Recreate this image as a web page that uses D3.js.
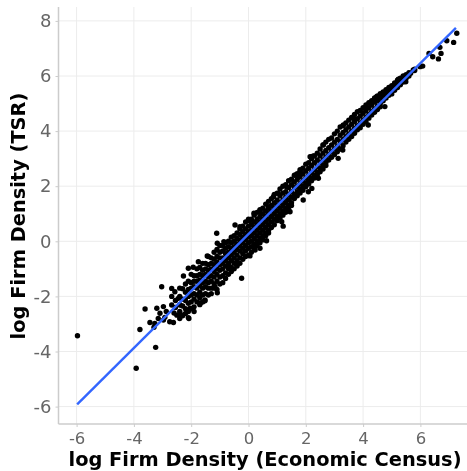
<!DOCTYPE html>
<html><head><meta charset="utf-8">
<script src="https://cdn.jsdelivr.net/npm/d3@7/dist/d3.min.js"></script>
<style>html,body{margin:0;padding:0;background:#fff}svg{display:block;filter:blur(0.5px)}</style>
</head><body><svg id="c" width="467" height="471"></svg>
<script>
const xTicks=[-6,-4,-2,0,2,4,6];
const yTicks=[-6,-4,-2,0,2,4,6,8];
const xLabel="log Firm Density (Economic Census)";
const yLabel="log Firm Density (TSR)";
const trendX=[-5.98,7.24];
const trendY=[-5.92,7.75];
const outlierPoints=[[-5.97,-3.43],[-3.92,-4.61],[-3.24,-3.85],[-3.79,-3.2],[-3.61,-2.46],[-3.03,-1.65],[-2.08,-2.8],[-3.44,-2.95],[-3.3,-3.12],[-1.11,0.29],[-0.24,-1.34],[0.63,0.02],[0.4,-0.25],[1.91,1.5],[1.21,0.55],[7.27,7.55],[7.16,7.22],[6.92,7.28],[6.72,6.82],[6.68,7.04],[6.63,6.62],[6.43,6.7],[6.3,6.82],[6.08,6.36],[5.99,6.34],[5.75,6.22],[5.66,6.1],[5.49,5.79],[5.29,5.88],[4.76,4.89],[4.18,4.22],[3.29,3.31],[3.13,3.01]];
const lowCluster=[[-3.2,-2.43],[-2.97,-2.37],[-3.09,-2.61],[-2.87,-2.55],[-2.75,-2.92],[-2.62,-2.95],[-3.15,-2.8],[-2.92,-2.76],[-3.27,-2.98],[-2.97,-2.86],[-2.68,-2.31],[-2.5,-2.68],[-2.39,-2.62],[-2.39,-2.31],[-2.68,-2.0],[-2.68,-1.71],[-2.57,-1.83],[-2.45,-2.07],[-1.69,-2.25],[-1.52,-2.13],[-2.04,-2.43],[-2.55,-2.4],[-2.55,-2.15],[-2.6,-2.6]];
const edgePoints=[[-2.27,-1.26],[-2.1,-0.98],[-1.93,-0.94],[-1.75,-0.74],[-1.44,-0.53],[-1.09,-0.07],[-0.86,-0.01],[-0.47,0.59],[-0.3,0.53],[0.03,0.75],[0.19,1.02],[0.38,1.07],[0.69,1.26],[0.87,1.62],[1.04,1.74],[1.33,1.98],[1.65,2.41],[1.8,2.53],[2.15,3.07],[2.26,3.1],[-2.1,-2.77],[-1.69,-2.25],[-1.52,-2.16],[-1.09,-1.87],[-1.17,-1.65],[-0.65,-0.92],[-0.41,-0.86],[0.05,-0.53],[0.23,-0.32],[1.16,0.71],[1.45,1.07],[2.09,1.8],[2.21,1.92],[2.44,2.29],[3.31,4.22],[3.66,4.46],[4.07,4.83],[4.47,5.25],[4.82,5.47],[5.23,5.88],[2.61,3.5],[2.2,3.07]];
// each row: census value, then the TSR values read at that census value
const columnRows=[
[-2.4,-1.7,-2.0,-2.3,-2.55,-2.8],[-2.3,-1.72,-2.1,-2.35,-2.7],[-2.2,-1.55,-1.85,-2.15,-2.45,-2.62],[-2.1,-1.45,-1.75,-2.0,-2.25,-2.55],
[-2,-1.2,-1.5,-1.7,-1.95,-2.2,-2.45],[-1.9,-1.25,-1.45,-1.65,-1.9,-2.1,-2.38,-2.55],[-1.8,-1.0,-1.25,-1.45,-1.7,-1.95,-2.2],[-1.7,-0.95,-1.2,-1.4,-1.6,-1.85,-2.05,-2.3],
[-1.6,-0.8,-1.05,-1.25,-1.5,-1.7,-1.95,-2.2],[-1.5,-0.8,-1.0,-1.2,-1.45,-1.65,-1.9],[-1.4,-0.55,-0.85,-1.05,-1.3,-1.5,-1.7,-1.95],[-1.3,-0.6,-0.8,-1.0,-1.25,-1.45,-1.7,-1.9],
[-1.2,-0.4,-0.65,-0.85,-1.1,-1.3,-1.55,-1.7],[-1.1,-0.3,-0.55,-0.75,-1.0,-1.2,-1.45,-1.75],[-1,-0.15,-0.4,-0.6,-0.85,-1.05,-1.3,-1.55],[-0.9,-0.15,-0.35,-0.6,-0.8,-1.0,-1.25,-1.5],
[-0.8,-0.05,-0.25,-0.45,-0.7,-0.9,-1.15,-1.35],[-0.7,0,-0.2,-0.4,-0.6,-0.8,-1.0,-1.2],[-0.6,0.15,-0.05,-0.25,-0.5,-0.7,-0.95,-1.1],[-0.5,0.2,0,-0.2,-0.4,-0.6,-0.8,-1.0],
[-0.4,0.3,0.1,-0.1,-0.3,-0.5,-0.7,-0.9],[-0.3,0.45,0.25,0.05,-0.15,-0.35,-0.6,-0.8],[-0.2,0.55,0.35,0.15,-0.05,-0.25,-0.45,-0.65],[-0.1,0.7,0.45,0.25,0.05,-0.15,-0.35,-0.55],
[0,0.8,0.55,0.35,0.15,-0.05,-0.25,-0.5],[0.1,0.8,0.6,0.4,0.2,0,-0.2,-0.4],[0.2,0.95,0.7,0.5,0.3,0.1,-0.1,-0.25],[0.3,1.05,0.8,0.6,0.4,0.2,0,-0.15],
[0.4,1.15,0.9,0.7,0.5,0.3,0.1,-0.05],[0.5,1.2,1.0,0.8,0.6,0.4,0.2,0.05],[0.6,1.35,1.1,0.9,0.7,0.5,0.3,0.2],[0.7,1.45,1.2,1.0,0.8,0.6,0.4,0.3],
[0.8,1.55,1.3,1.1,0.9,0.7,0.5],[0.9,1.7,1.4,1.2,1.0,0.8,0.6],[1,1.75,1.5,1.3,1.1,0.9,0.75],[1.1,1.9,1.65,1.4,1.2,1.0,0.85],
[1.2,2.0,1.75,1.5,1.3,1.1,0.95],[1.3,2.05,1.8,1.6,1.4,1.2,1.05],[1.4,2.2,1.95,1.7,1.5,1.3,1.15],[1.5,2.25,2.05,1.8,1.6,1.4,1.3],
[1.6,2.4,2.15,1.95,1.7,1.55],[1.7,2.45,2.25,2.0,1.8,1.65],[1.8,2.6,2.35,2.1,1.9,1.75],[1.9,2.65,2.45,2.2,2.0,1.85],
[2,2.8,2.55,2.3,2.1,1.98],[2.1,2.85,2.65,2.4,2.2,2.08],[2.2,3.0,2.75,2.5,2.3,2.2],[2.3,3.1,2.85,2.6,2.4,2.3],
[2.4,3.2,2.95,2.7,2.5,2.42],[2.5,3.35,3.1,2.85,2.65,2.52],[2.6,3.5,3.2,2.95,2.75,2.62],[2.7,3.6,3.3,3.05,2.85,2.75],
[2.8,3.7,3.4,3.15,2.95],[2.9,3.75,3.5,3.25,3.05],[3,3.9,3.6,3.35,3.15],[3.1,4.0,3.7,3.45,3.25],
[3.2,4.15,3.85,3.6,3.35],[3.3,4.2,3.95,3.7,3.47],[3.4,4.3,4.05,3.8,3.6],[3.5,4.4,4.15,3.9,3.7],
[3.6,4.5,4.25,4.0,3.8],[3.7,4.6,4.35,4.1,3.92],[3.8,4.7,4.45,4.2,4.05],[3.9,4.75,4.55,4.3,4.12],
[4,4.85,4.65,4.4,4.25],[4.1,4.95,4.75,4.5,4.35],[4.2,5.03,4.85,4.6,4.47],[4.3,5.1,4.95,4.7,4.58],
[4.4,5.2,5.05,4.8,4.68],[4.5,5.28,5.12,4.9,4.78],[4.6,5.36,5.2,5.0,4.88],[4.7,5.42,5.3,5.1],
[4.8,5.5,5.38,5.2],[4.9,5.58,5.48,5.3],[5,5.65,5.55,5.35],[5.1,5.75,5.65,5.48],
[5.2,5.85,5.75,5.58],[5.3,5.92,5.8,5.68],[5.4,6.0,5.85,5.78],[5.5,6.05,5.92],[5.6,6.12,6.0],[5.8,6.25,6.2]
];
const allPoints=[...outlierPoints,...lowCluster,...edgePoints,...columnRows.flatMap(r=>r.slice(1).map(v=>[r[0],v]))];

const pL=58.5,pB=424,pT=7,pR=467;
const x=d3.scaleLinear().domain([-6,6]).range([76.6,420.4]);
const y=d3.scaleLinear().domain([-6,8]).range([406.6,20.9]);
const svg=d3.select("#c");
const gridColor="#ececec";
svg.append("g").selectAll("line").data(xTicks).join("line")
 .attr("x1",d=>x(d)).attr("x2",d=>x(d)).attr("y1",pT).attr("y2",pB).attr("stroke",gridColor).attr("stroke-width",1);
svg.append("g").selectAll("line").data(yTicks).join("line")
 .attr("y1",d=>y(d)).attr("y2",d=>y(d)).attr("x1",pL).attr("x2",pR).attr("stroke",gridColor).attr("stroke-width",1);
svg.append("g").selectAll("circle").data(allPoints).join("circle")
 .attr("cx",d=>x(d[0])).attr("cy",d=>y(d[1])).attr("r",2.7).attr("fill","#000");
svg.append("line").attr("x1",x(trendX[0])).attr("y1",y(trendY[0])).attr("x2",x(trendX[1])).attr("y2",y(trendY[1]))
 .attr("stroke","#3366ff").attr("stroke-width",2.4);
const ax=svg.append("g").attr("transform",`translate(0,${pB})`).call(d3.axisBottom(x).tickValues(xTicks).tickSize(3).tickPadding(5).tickFormat(d=>String(d)));
const ay=svg.append("g").attr("transform",`translate(${pL},0)`).call(d3.axisLeft(y).tickValues(yTicks).tickSize(3).tickPadding(4).tickFormat(d=>String(d)));
ax.selectAll("text").attr("font-size",16.5);
ay.selectAll("text").attr("font-size",18);
[ax,ay].forEach(g=>{
 g.selectAll("text").attr("font-family","DejaVu Sans").attr("fill","#666").attr("font-weight",400);
 g.selectAll("line").attr("stroke","#ccc");
});
ax.select(".domain").attr("d",`M${pL},0H${pR}`).attr("stroke","#ccc").attr("stroke-width",1.5);
ay.select(".domain").attr("d",`M0,${pT}V${pB}`).attr("stroke","#ccc").attr("stroke-width",1.5);
svg.append("text").attr("x",265).attr("y",465.7).attr("text-anchor","middle").attr("font-family","DejaVu Sans").attr("font-weight",700).attr("font-size",19.4).attr("fill","#000").text(xLabel);
svg.append("text").attr("transform","translate(25,216) rotate(-90)").attr("text-anchor","middle").attr("font-family","DejaVu Sans").attr("font-weight",700).attr("font-size",19.4).attr("fill","#000").text(yLabel);
</script></body></html>
